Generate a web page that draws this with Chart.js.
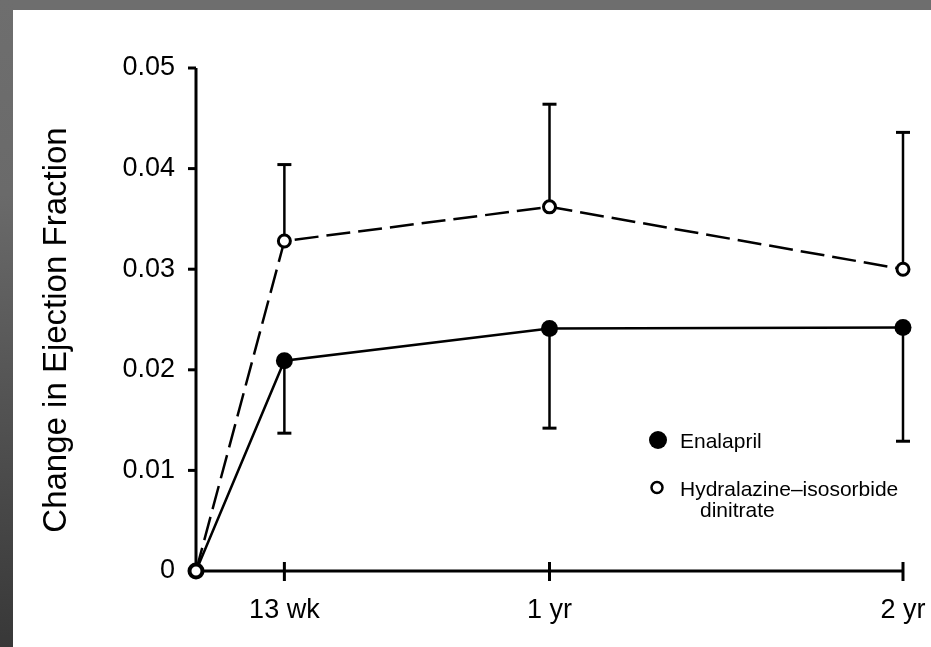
<!DOCTYPE html>
<html>
<head>
<meta charset="utf-8">
<title>Change in Ejection Fraction</title>
<script src="https://cdn.jsdelivr.net/npm/chart.js@4.4.1/dist/chart.umd.min.js"></script>
<style>
  html, body { margin: 0; padding: 0; background: #fff; overflow: hidden; }
  #wrap { width: 931px; height: 647px; position: relative; }
</style>
</head>
<body>
<div id="wrap"><canvas id="efChart"></canvas></div>
<script>
// time points in weeks since randomisation
var weeks = [0, 13, 52, 104];
var xTickWeeks = [13, 52, 104];
var xTickLabels = ['13 wk', '1 yr', '2 yr'];

var yTickValues = [0, 0.01, 0.02, 0.03, 0.04, 0.05];
var yTickLabels = ['0', '0.01', '0.02', '0.03', '0.04', '0.05'];

// mean change in ejection fraction
var enalapril = [0, 0.0209, 0.0241, 0.0242];
var enalaprilLower = [null, 0.0137, 0.0142, 0.0129];
var hydralazine = [0, 0.0328, 0.0362, 0.0300];
var hydralazineUpper = [null, 0.0404, 0.0464, 0.0436];

var yTitle = 'Change in Ejection Fraction';

var fontFamily = "'Liberation Sans', Arial, Helvetica, sans-serif";
Chart.defaults.font.family = fontFamily;
Chart.defaults.color = '#000';

function toPoints(xs, ys){
  var out = [];
  for (var i = 0; i < xs.length; i++){
    out.push({x: xs[i], y: ys[i]});
  }
  return out;
}

function line(ctx, x1, y1, x2, y2, w){
  ctx.lineWidth = w;
  ctx.beginPath();
  ctx.moveTo(x1, y1);
  ctx.lineTo(x2, y2);
  ctx.stroke();
}

function errorBars(chart, vals, ends){
  var ctx = chart.ctx, xs = chart.scales.x, ys = chart.scales.y;
  for (var i = 0; i < vals.length; i++){
    if (ends[i] === null) continue;
    var px = xs.getPixelForValue(weeks[i]);
    var p0 = ys.getPixelForValue(vals[i]);
    var p1 = ys.getPixelForValue(ends[i]);
    line(ctx, px, p0, px, p1, 2.5);
    line(ctx, px - 7, p1, px + 7, p1, 3);
  }
}

var figurePlugin = {
  id: 'figurePlugin',
  beforeDraw: function(chart){
    var ctx = chart.ctx;
    ctx.save();
    ctx.fillStyle = '#fff';
    ctx.fillRect(0, 0, chart.width, chart.height);
    ctx.fillStyle = '#6e6e6e';
    ctx.fillRect(0, 0, chart.width, 10);
    var g = ctx.createLinearGradient(0, 0, 0, chart.height);
    g.addColorStop(0, '#6e6e6e');
    g.addColorStop(0.3, '#6a6a6a');
    g.addColorStop(1, '#383838');
    ctx.fillStyle = g;
    ctx.fillRect(0, 0, 13, chart.height);
    ctx.restore();
  },
  beforeDatasetsDraw: function(chart){
    var ctx = chart.ctx, a = chart.chartArea;
    var xs = chart.scales.x, ys = chart.scales.y;
    ctx.save();
    ctx.strokeStyle = '#000';
    ctx.lineCap = 'butt';
    // axes
    line(ctx, a.left, a.top, a.left, a.bottom + 1.5, 3);
    line(ctx, a.left - 1.5, a.bottom, a.right, a.bottom, 3);
    yTickValues.forEach(function(v){
      var py = ys.getPixelForValue(v);
      line(ctx, a.left - 8, py, a.left, py, 3);
    });
    xTickWeeks.forEach(function(v){
      var px = xs.getPixelForValue(v);
      line(ctx, px, a.bottom - 9, px, a.bottom + 10, 3);
    });
    // error bars: hydralazine upward, enalapril downward
    errorBars(chart, hydralazine, hydralazineUpper);
    errorBars(chart, enalapril, enalaprilLower);
    ctx.restore();
  },
  afterDraw: function(chart){
    var ctx = chart.ctx;
    ctx.save();
    // axis title
    ctx.save();
    ctx.translate(66, 330);
    ctx.rotate(-Math.PI / 2);
    ctx.fillStyle = '#000';
    ctx.font = '33px ' + fontFamily;
    ctx.textAlign = 'center';
    ctx.textBaseline = 'alphabetic';
    ctx.fillText(yTitle, 0, 0);
    ctx.restore();
    // key
    ctx.fillStyle = '#000';
    ctx.strokeStyle = '#000';
    ctx.beginPath();
    ctx.arc(658, 440, 9, 0, Math.PI * 2);
    ctx.fill();
    ctx.beginPath();
    ctx.arc(657, 487.5, 5.5, 0, Math.PI * 2);
    ctx.fillStyle = '#fff';
    ctx.fill();
    ctx.lineWidth = 2.5;
    ctx.stroke();
    ctx.fillStyle = '#000';
    ctx.font = '21px ' + fontFamily;
    ctx.textBaseline = 'alphabetic';
    ctx.fillText('Enalapril', 680, 448);
    ctx.fillText('Hydralazine\u2013isosorbide', 680, 496);
    ctx.fillText('dinitrate', 700, 517);
    ctx.restore();
  }
};

var chart = new Chart(document.getElementById('efChart'), {
  type: 'line',
  data: {
    datasets: [
      {
        label: 'Hydralazine\u2013isosorbide dinitrate',
        data: toPoints(weeks, hydralazine),
        borderColor: '#000',
        borderWidth: 2.5,
        borderDash: [24, 8],
        tension: 0,
        pointRadius: 6,
        pointBackgroundColor: '#fff',
        pointBorderColor: '#000',
        pointBorderWidth: 3,
        order: 0,
        clip: false
      },
      {
        label: 'Enalapril',
        data: toPoints(weeks, enalapril),
        borderColor: '#000',
        borderWidth: 2.5,
        tension: 0,
        pointRadius: 8.5,
        pointBackgroundColor: '#000',
        pointBorderColor: '#000',
        pointBorderWidth: 0,
        order: 1,
        clip: false
      }
    ]
  },
  options: {
    animation: false,
    responsive: true,
    maintainAspectRatio: false,
    layout: { padding: { left: 0, top: 68, right: 28, bottom: 0 } },
    plugins: {
      legend: { display: false },
      tooltip: { enabled: false }
    },
    scales: {
      x: {
        type: 'linear',
        min: 0,
        max: 104,
        // invisible tick marks only push the labels down
        grid: { color: 'rgba(0,0,0,0)', drawOnChartArea: false, drawTicks: true, tickLength: 23 },
        border: { display: false },
        afterBuildTicks: function(scale){
          scale.ticks = xTickWeeks.map(function(v){ return {value: v}; });
        },
        afterFit: function(scale){ scale.height = 76; },
        ticks: {
          autoSkip: false,
          maxRotation: 0,
          padding: 0,
          color: '#000',
          font: { size: 27 },
          callback: function(v, i){ return xTickLabels[i]; }
        }
      },
      y: {
        min: 0,
        max: 0.05,
        grid: { display: false, drawTicks: false },
        border: { display: false },
        afterBuildTicks: function(scale){
          scale.ticks = yTickValues.map(function(v){ return {value: v}; });
        },
        afterFit: function(scale){ scale.width = 196; },
        ticks: {
          padding: 21,
          color: '#000',
          font: { size: 27 },
          callback: function(v, i){ return yTickLabels[i]; }
        }
      }
    }
  },
  plugins: [figurePlugin]
});
</script>
</body>
</html>
